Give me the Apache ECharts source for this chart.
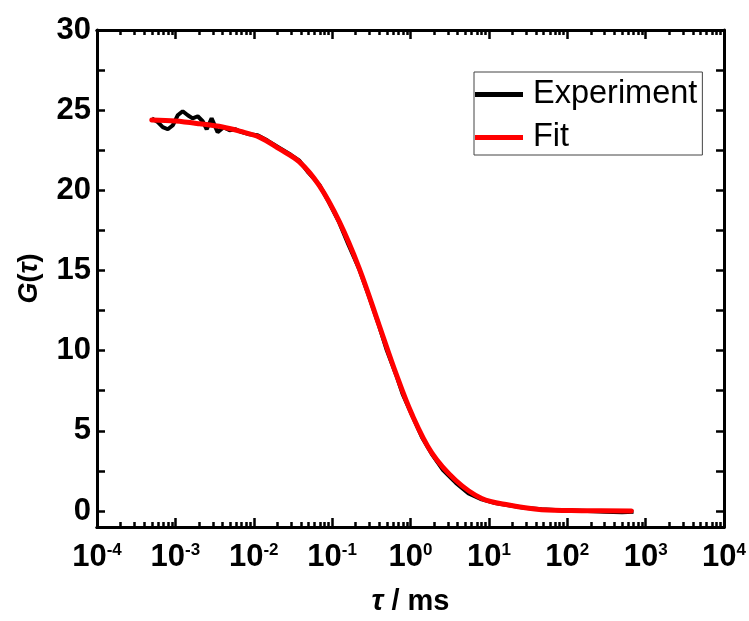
<!DOCTYPE html>
<html>
<head>
<meta charset="utf-8">
<script src="https://cdn.jsdelivr.net/npm/echarts@6/dist/echarts.min.js"></script>
<style>html,body{margin:0;padding:0;background:#fff}#c{width:749px;height:621px}</style>
</head>
<body>
<div id="c"></div>
<script>
// ---- data ----
const expTau = [5.0e-4, 5.97e-4, 6.9e-4, 8.0e-4, 9.3e-4, 1.07e-3, 1.24e-3, 1.44e-3, 1.66e-3, 1.93e-3,
  2.23e-3, 2.51e-3, 2.90e-3, 3.46e-3, 4.12e-3, 4.92e-3, 5.86e-3, 6.99e-3, 8.83e-3, 0.0112,
  0.015, 0.0213, 0.030, 0.0382, 0.050, 0.0686, 0.090, 0.123, 0.160, 0.221, 0.300, 0.397, 0.500,
  0.655, 0.800, 1.04, 1.40, 1.87, 2.60, 3.79, 5.50, 8.10, 12.0, 17.9, 28.0, 47.0, 80.0, 152, 300, 500, 700];
const expG = [24.49, 24.25, 23.94, 23.81, 24.06, 24.68, 24.93, 24.68, 24.49, 24.62,
  24.31, 23.81, 24.49, 23.63, 23.94, 23.75, 23.81, 23.63, 23.50, 23.44,
  23.10, 22.65, 22.20, 21.85, 21.10, 20.35, 19.30, 18.00, 16.65, 15.10, 13.30, 11.55, 10.00,
  8.50, 7.25, 6.00, 4.60, 3.55, 2.55, 1.75, 1.10, 0.72, 0.50, 0.36, 0.20, 0.10, 0.05, 0.02, -0.05, -0.08, -0.05];

const fitTau = [5.0e-4, 1.0e-3, 2.04e-3, 4.0e-3, 6.6e-3, 0.0118, 0.0213, 0.0382, 0.0686, 0.123,
  0.221, 0.397, 0.655, 1.04, 1.87, 3.79, 8.10, 17.9, 47.0, 152, 656];
const fitG = [24.39, 24.32, 24.15, 23.95, 23.69, 23.32, 22.58, 21.77, 20.29, 18.06,
  15.15, 11.60, 8.55, 6.04, 3.62, 1.90, 0.78, 0.37, 0.08, 0.02, 0.0];

const xMajorTicks = [1e-4, 1e-3, 1e-2, 1e-1, 1, 1e1, 1e2, 1e3, 1e4];
const xMinorMultipliers = [2, 3, 4, 5, 6, 7, 8, 9];
const yTickValues = [0, 2.5, 5, 7.5, 10, 12.5, 15, 17.5, 20, 22.5, 25, 27.5, 30];
const yLabelValues = [0, 5, 10, 15, 20, 25, 30];

const seriesNames = ['Experiment', 'Fit'];

// ---- build ----
const xMinorTicks = [];
for (let i = 0; i < xMajorTicks.length - 1; i++) {
  for (const m of xMinorMultipliers) xMinorTicks.push(+(xMajorTicks[i] * m).toPrecision(3));
}
const expData = expTau.map((t, i) => [t, expG[i]]);
const fitData = fitTau.map((t, i) => [t, fitG[i]]);

const FONT = 'Arial, "Liberation Sans", sans-serif';
const axisLine = { show: true, onZero: false, lineStyle: { color: '#000', width: 3 } };

function xAxisDef(position, ticks, len, showLabel) {
  return {
    type: 'log', logBase: 10, min: 1e-4, max: 1e4, position: position,
    axisLine: axisLine,
    axisTick: { show: true, inside: true, length: len, customValues: ticks, lineStyle: { color: '#000', width: 2.5 } },
    axisLabel: showLabel ? {
      show: true, customValues: xMajorTicks, margin: 15,
      formatter: v => '{b|10}{s|' + Math.round(Math.log10(v)) + '}',
      rich: {
        b: { fontFamily: FONT, fontWeight: 'bold', fontSize: 31, color: '#000' },
        s: { fontFamily: FONT, fontWeight: 'bold', fontSize: 17, color: '#000', verticalAlign: 'top' }
      }
    } : { show: false },
    splitLine: { show: false }, minorTick: { show: false }
  };
}

const chart = echarts.init(document.getElementById('c'), null, { renderer: 'canvas' });
chart.setOption({
  animation: false,
  backgroundColor: '#fff',
  grid: { left: 97, right: 23, top: 30, bottom: 89, containLabel: false },
  legend: {
    data: seriesNames, orient: 'vertical', left: 474, top: 72,
    icon: 'rect', itemWidth: 48, itemHeight: 5, itemGap: 10,
    padding: [6, 5, 1, 1],
    borderColor: '#444', borderWidth: 1, backgroundColor: '#fff',
    textStyle: { fontFamily: FONT, fontSize: 32.5, color: '#000', lineHeight: 32, padding: [0, 0, 0, 5] }
  },
  xAxis: [
    Object.assign(xAxisDef('bottom', xMajorTicks, 9, true), {
      name: '{t|τ} / ms', nameLocation: 'middle', nameGap: 60,
      nameTextStyle: {
        fontFamily: FONT, fontWeight: 'bold', fontSize: 29, color: '#000',
        rich: { t: { fontFamily: FONT, fontWeight: 'bold', fontStyle: 'italic', fontSize: 29, color: '#000' } }
      }
    }),
    xAxisDef('bottom', xMinorTicks, 5, false),
    xAxisDef('top', xMajorTicks, 9, false),
    xAxisDef('top', xMinorTicks, 5, false)
  ],
  yAxis: [
    {
      type: 'value', min: -1, max: 30, position: 'left',
      axisLine: axisLine,
      axisTick: { show: true, inside: true, length: 8, customValues: yTickValues, lineStyle: { color: '#000', width: 2.5 } },
      axisLabel: { show: true, customValues: yLabelValues, margin: 6, fontFamily: FONT, fontWeight: 'bold', fontSize: 31, color: '#000' },
      splitLine: { show: false },
      name: '{g|G}({g|τ})', nameLocation: 'middle', nameGap: 54, nameRotate: 90,
      nameTextStyle: {
        fontFamily: FONT, fontWeight: 'bold', fontSize: 27, color: '#000',
        rich: { g: { fontFamily: FONT, fontWeight: 'bold', fontStyle: 'italic', fontSize: 27, color: '#000' } }
      }
    },
    {
      type: 'value', min: -1, max: 30, position: 'right',
      axisLine: axisLine,
      axisTick: { show: true, inside: true, length: 8, customValues: yTickValues, lineStyle: { color: '#000', width: 2.5 } },
      axisLabel: { show: false },
      splitLine: { show: false }
    }
  ],
  series: [
    {
      name: seriesNames[0], type: 'line', data: expData, xAxisIndex: 0, yAxisIndex: 0,
      showSymbol: false, symbol: 'none', smooth: false,
      itemStyle: { color: '#000' }, lineStyle: { color: '#000', width: 4 }, z: 3
    },
    {
      name: seriesNames[1], type: 'line', data: fitData, xAxisIndex: 0, yAxisIndex: 0,
      showSymbol: false, symbol: 'none', smooth: 0.35,
      itemStyle: { color: '#ff0000' }, lineStyle: { color: '#ff0000', width: 5, cap: 'round' }, z: 4
    }
  ]
});
</script>
</body>
</html>
